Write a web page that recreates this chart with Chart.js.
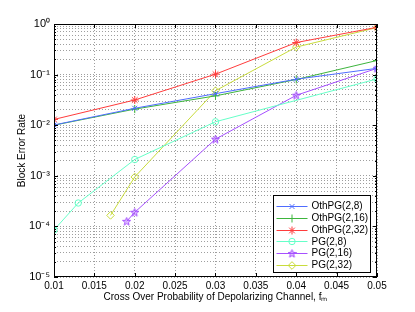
<!DOCTYPE html>
<html>
<head>
<meta charset="utf-8">
<script src="https://cdn.jsdelivr.net/npm/chart.js@4.4.1/dist/chart.umd.min.js"></script>
<style>html,body{margin:0;padding:0;background:#fff;}canvas{display:block;}</style>
</head>
<body>
<canvas id="c" width="415" height="312"></canvas>
<script>
// ---- data ----
const seriesLabels = ['OthPG(2,8)', 'OthPG(2,16)', 'OthPG(2,32)', 'PG(2,8)', 'PG(2,16)', 'PG(2,32)'];
const xOthPG = [0.01, 0.02, 0.03, 0.04, 0.05];
const othPG_2_8  = [0.0101, 0.0216, 0.042, 0.081, 0.133];
const othPG_2_16 = [0.0100, 0.0208, 0.038, 0.080, 0.19];
const othPG_2_32 = [0.013, 0.0315, 0.102, 0.43, 0.86];
const xPG_2_8  = [0.01, 0.013, 0.02, 0.03, 0.05];
const pg_2_8   = [0.000085, 0.00029, 0.0021, 0.0117, 0.082];
const xPG_2_16 = [0.019, 0.02, 0.03, 0.04, 0.05];
const pg_2_16  = [0.000126, 0.00019, 0.0053, 0.039, 0.133];
const xPG_2_32 = [0.017, 0.02, 0.03, 0.04, 0.05];
const pg_2_32  = [0.000165, 0.00095, 0.048, 0.35, 0.85];

const xTickValues = [0.01, 0.015, 0.02, 0.025, 0.03, 0.035, 0.04, 0.045, 0.05];
const xTickLabels = ['0.01', '0.015', '0.02', '0.025', '0.03', '0.035', '0.04', '0.045', '0.05'];
const yMajorValues = [1e-5, 1e-4, 1e-3, 1e-2, 1e-1, 1];
const yTickLabels = ['10\u207B\u2075', '10\u207B\u2074', '10\u207B\u00B3', '10\u207B\u00B2', '10\u207B\u00B9', '10\u2070'];
const xTitle = 'Cross Over Probability of Depolarizing Channel, f\u2098';
const yTitle = 'Block Error Rate';

// ---- styles ----
const FONT = '"Liberation Sans", Arial, Helvetica, sans-serif';
const colors = ['#4f6cff', '#3db53d', '#ff3c3c', '#66ffc8', '#a650ff', '#c9dc3c'];

function makePentagram(color) {
  const c = document.createElement('canvas');
  c.width = 9; c.height = 9;
  const g = c.getContext('2d');
  const cx = 4.5, cy = 4.8, R = 4.2, r = 1.8;
  g.beginPath();
  for (let i = 0; i < 10; i++) {
    const a = -Math.PI / 2 + i * Math.PI / 5;
    const rr = i % 2 === 0 ? R : r;
    const px = cx + rr * Math.cos(a), py = cy + rr * Math.sin(a);
    if (i === 0) g.moveTo(px, py); else g.lineTo(px, py);
  }
  g.closePath();
  g.fillStyle = color; g.globalAlpha = 0.35; g.fill();
  g.globalAlpha = 1; g.strokeStyle = color; g.lineWidth = 1; g.stroke();
  return c;
}
const star5 = makePentagram(colors[4]);
const pointStyles = ['crossRot', 'cross', 'star', 'circle', star5, 'rectRot'];
const pointRadii = [3.5, 4, 4, 3.2, 4.5, 3.8];

function pairs(xs, ys) { return xs.map((x, i) => ({ x: x, y: ys[i] })); }
const seriesData = [
  pairs(xOthPG, othPG_2_8), pairs(xOthPG, othPG_2_16), pairs(xOthPG, othPG_2_32),
  pairs(xPG_2_8, pg_2_8), pairs(xPG_2_16, pg_2_16), pairs(xPG_2_32, pg_2_32)
];

const datasets = seriesData.map((d, i) => ({
  label: seriesLabels[i],
  data: d,
  borderColor: colors[i],
  backgroundColor: colors[i],
  pointBorderColor: colors[i],
  pointBackgroundColor: 'rgba(0,0,0,0)',
  borderWidth: 1,
  pointStyle: pointStyles[i],
  pointRadius: pointRadii[i],
  pointBorderWidth: 1,
  tension: 0,
  fill: false
}));

const yAllTicks = [];
yMajorValues.forEach((v, k) => {
  if (k === yMajorValues.length - 1) { yAllTicks.push(v); return; }
  for (let m = 1; m <= 9; m++) yAllTicks.push(+(m * v).toPrecision(6));
});

const framePlugin = {
  id: 'frame',
  beforeDraw(chart) {
    const ctx = chart.ctx;
    ctx.save(); ctx.fillStyle = '#fff'; ctx.fillRect(0, 0, chart.width, chart.height); ctx.restore();
  },
  afterDatasetsDraw(chart) {
    const ctx = chart.ctx, a = chart.chartArea;
    const xs = chart.scales.x, ys = chart.scales.y;
    ctx.save();
    ctx.strokeStyle = '#000'; ctx.lineWidth = 1;
    ctx.strokeRect(Math.round(a.left) + 0.5, Math.round(a.top) + 0.5, Math.round(a.right - a.left) - 1, Math.round(a.bottom - a.top) - 1);
    ctx.beginPath();
    xTickValues.forEach(v => {
      const px = Math.round(xs.getPixelForValue(v)) + 0.5;
      ctx.moveTo(px, a.bottom); ctx.lineTo(px, a.bottom - 4);
      ctx.moveTo(px, a.top); ctx.lineTo(px, a.top + 4);
    });
    yAllTicks.forEach(v => {
      const py = Math.round(ys.getPixelForValue(v)) + 0.5;
      const major = yMajorValues.some(m => Math.abs(m - v) / m < 1e-6);
      const L = major ? 4 : 2;
      ctx.moveTo(a.left, py); ctx.lineTo(a.left + L, py);
      ctx.moveTo(a.right, py); ctx.lineTo(a.right - L, py);
    });
    ctx.stroke();

    // legend
    const bw = 97, bh = 77;
    const bx = Math.round(a.right - 7 - bw) + 0.5, by = Math.round(a.bottom - 5 - bh) + 0.5;
    ctx.fillStyle = '#fff';
    ctx.fillRect(bx, by, bw, bh);
    ctx.strokeStyle = '#000';
    ctx.strokeRect(bx, by, bw, bh);
    ctx.font = '10px ' + FONT;
    ctx.textBaseline = 'middle';
    ctx.textAlign = 'left';
    chart.data.datasets.forEach((ds, i) => {
      const y = by + 10.5 + i * 11.8;
      ctx.strokeStyle = ds.borderColor; ctx.lineWidth = 1;
      ctx.beginPath(); ctx.moveTo(bx + 3, Math.round(y) + 0.5); ctx.lineTo(bx + 34, Math.round(y) + 0.5); ctx.stroke();
      ctx.fillStyle = 'rgba(0,0,0,0)';
      Chart.helpers.drawPoint(ctx, { pointStyle: ds.pointStyle, radius: ds.pointRadius, borderWidth: 1, rotation: 0 }, bx + 18.5, Math.round(y) + 0.5);
      ctx.fillStyle = '#000';
      ctx.fillText(ds.label, bx + 38, y + 0.5);
    });
    ctx.restore();
  }
};

new Chart(document.getElementById('c'), {
  type: 'line',
  data: { datasets: datasets },
  options: {
    responsive: false,
    animation: false,
    layout: { padding: { left: 0, top: 24, right: 38, bottom: 0 } },
    plugins: { legend: { display: false }, tooltip: { enabled: false } },
    scales: {
      x: {
        type: 'linear', min: 0.01, max: 0.05,
        afterBuildTicks(s) { s.ticks = xTickValues.map(v => ({ value: v })); },
        afterFit(s) { s.height = 35; },
        ticks: {
          autoSkip: false, maxRotation: 0, padding: 3, color: '#000',
          font: { family: FONT, size: 10 },
          callback(v, i) { return xTickLabels[i]; }
        },
        grid: { color: 'rgba(0,0,0,0.38)', drawTicks: false, lineWidth: 1 },
        border: { display: false, dash: [1, 2] },
        title: { display: true, text: xTitle, color: '#000', font: { family: FONT, size: 10 }, padding: { top: 0, bottom: 9 } }
      },
      y: {
        type: 'logarithmic', min: 1e-5, max: 1,
        afterBuildTicks(s) { s.ticks = yAllTicks.map(v => ({ value: v })); },
        afterFit(s) { s.width = 54; },
        ticks: {
          autoSkip: false, padding: 4, color: '#000',
          font: { family: FONT, size: 11 },
          callback(v) {
            const i = yMajorValues.findIndex(m => Math.abs(m - v) / m < 1e-6);
            return i >= 0 ? yTickLabels[i] : '';
          }
        },
        grid: { color: 'rgba(0,0,0,0.38)', drawTicks: false, lineWidth: 1 },
        border: { display: false, dash: [1, 2] },
        title: { display: true, text: yTitle, color: '#000', font: { family: FONT, size: 10 }, padding: { top: 16, bottom: 0 } }
      }
    }
  },
  plugins: [framePlugin]
});
</script>
</body>
</html>
